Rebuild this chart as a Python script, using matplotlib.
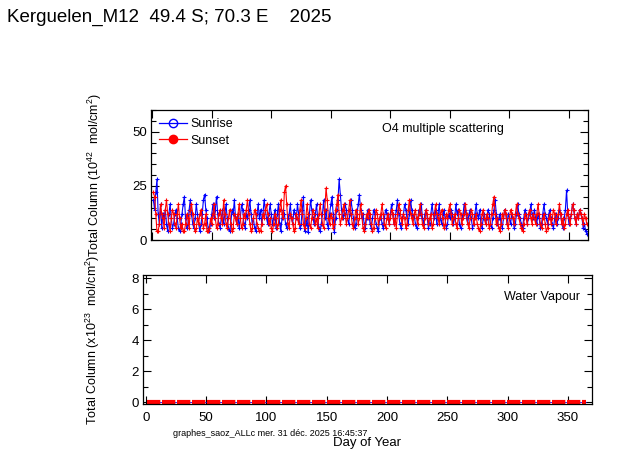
import numpy as np
import matplotlib
matplotlib.use("Agg")
import matplotlib.pyplot as plt
from matplotlib.lines import Line2D
from matplotlib.ticker import MultipleLocator

plt.rcParams['font.family'] = ['Liberation Sans', 'DejaVu Sans']
plt.rcParams['mathtext.fontset'] = 'custom'
plt.rcParams['mathtext.rm'] = 'Liberation Sans'
plt.rcParams['mathtext.it'] = 'Liberation Sans'

title = "Kerguelen_M12  49.4 S; 70.3 E    2025"
footer = "graphes_saoz_ALLc mer. 31 déc. 2025 16:45:37"
series_names = ["Sunrise", "Sunset"]

days = np.arange(1, 366)

o4_sunrise = [
    18.5, 14, 22, 28, 12, 7.5, 16.5, 5.5, 12, 10, 14, 7.5, 4, 12, 16.5, 10, 5.5, 7.5, 12, 14,
    10, 5.5, 4, 7.5, 12, 16.5, 20, 10, 5.5, 7.5, 14, 18.5, 12, 7.5, 5.5, 10, 16.5, 12, 7.5, 4,
    7.5, 12, 18.5, 21, 14, 10, 5.5, 4, 7.5, 12, 16.5, 10, 14, 20, 12, 7.5, 5.5, 10, 14, 7.5,
    12, 16.5, 10, 5.5, 4, 7.5, 14, 12, 18.5, 10, 7.5, 12, 5.5, 10, 16.5, 14, 7.5, 5.5, 12, 10,
    14, 18.5, 12, 7.5, 10, 5.5, 4, 12, 16.5, 10, 14, 7.5, 12, 18.5, 14, 10, 7.5, 12, 16.5, 12,
    7.5, 10, 14, 5.5, 12, 16.5, 7.5, 4, 10, 14, 12, 7.5, 5.5, 10, 12, 16.5, 10, 7.5, 14, 12,
    10, 16.5, 12, 5.5, 7.5, 14, 20, 4, 7.5, 10, 3.5, 12, 18.5, 14, 10, 7.5, 12, 16.5, 10, 5.5,
    4, 7.5, 12, 18.5, 10, 14, 7.5, 5.5, 12, 16.5, 20, 12, 3.5, 10, 14, 18.5, 28, 21, 14, 10,
    12, 16.5, 14, 10, 7.5, 12, 18.5, 14, 10, 5.5, 7.5, 12, 16.5, 21, 14, 10, 12, 7.5, 5.5, 10,
    14, 12, 7.5, 5.5, 10, 14, 12, 7.5, 5.5, 4, 10, 12, 7.5, 5.5, 10, 14, 12, 10, 7.5, 12,
    16.5, 12, 7.5, 10, 14, 18.5, 12, 7.5, 5.5, 10, 12, 16.5, 14, 10, 7.5, 12, 18.5, 14, 10, 12,
    7.5, 5.5, 10, 14, 12, 16.5, 10, 7.5, 12, 14, 10, 5.5, 7.5, 12, 16.5, 12, 10, 14, 7.5, 12,
    16.5, 10, 7.5, 12, 14, 10, 5.5, 7.5, 12, 10, 14, 12, 7.5, 10, 16.5, 12, 14, 7.5, 5.5, 10,
    12, 16.5, 14, 10, 7.5, 12, 14, 10, 5.5, 7.5, 12, 16.5, 12, 10, 14, 7.5, 5.5, 10, 12, 7.5,
    10, 14, 12, 7.5, 5.5, 10, 14, 18.5, 12, 7.5, 10, 12, 7.5, 5.5, 10, 14, 12, 7.5, 12, 10,
    7.5, 12, 10, 5.5, 7.5, 12, 16.5, 12, 10, 7.5, 5.5, 10, 14, 12, 7.5, 10, 12, 16.5, 12, 10,
    14, 10, 7.5, 12, 10, 5.5, 7.5, 12, 16.5, 12, 10, 7.5, 12, 14, 10, 7.5, 5.5, 10, 12, 7.5,
    10, 14, 12, 7.5, 5.5, 10, 14, 23, 12, 7.5, 10, 12, 16.5, 14, 10, 7.5, 12, 10, 14, 12,
    10, 5.5, 7.5, 4, 3,
]
o4_sunset = [
    22, 20, 12, 4, 4, 7.5, 16.5, 12, 10, 5.5, 14, 18.5, 12, 7.5, 4, 10, 14, 12, 7.5, 5.5,
    12, 16.5, 10, 5.5, 7.5, 4, 4, 7.5, 12, 10, 5.5, 14, 16.5, 12, 7.5, 4, 5.5, 10, 7.5, 12,
    14, 10, 5.5, 7.5, 12, 4, 4, 5.5, 10, 7.5, 12, 16.5, 10, 5.5, 7.5, 12, 14, 10, 7.5, 18.5,
    12, 7.5, 5.5, 10, 14, 7.5, 4, 5.5, 12, 10, 7.5, 12, 16.5, 10, 5.5, 7.5, 12, 10, 14, 18.5,
    12, 7.5, 4, 5.5, 10, 14, 12, 7.5, 5.5, 4, 4, 7.5, 12, 10, 14, 16.5, 12, 7.5, 10, 5.5,
    4, 7.5, 12, 10, 5.5, 7.5, 14, 18.5, 12, 10, 22, 25, 16.5, 7.5, 5.5, 12, 10, 7.5, 4, 5.5,
    12, 10, 7.5, 14, 18.5, 12, 7.5, 5.5, 10, 16.5, 12, 7.5, 5.5, 10, 14, 12, 7.5, 10, 5.5, 12,
    16.5, 12, 7.5, 5.5, 14, 24, 18.5, 10, 7.5, 12, 10, 5.5, 7.5, 14, 16.5, 21, 12, 7.5, 10, 14,
    16.5, 12, 7.5, 10, 14, 18.5, 12, 7.5, 5.5, 10, 14, 12, 7.5, 10, 16.5, 12, 5.5, 4, 7.5, 12,
    10, 14, 12, 7.5, 4, 5.5, 10, 14, 12, 7.5, 10, 12, 16.5, 12, 7.5, 5.5, 10, 12, 7.5, 10,
    14, 12, 7.5, 10, 5.5, 12, 16.5, 14, 10, 7.5, 12, 10, 5.5, 7.5, 14, 18.5, 12, 10, 7.5, 12,
    14, 10, 7.5, 12, 16.5, 12, 7.5, 5.5, 10, 14, 12, 7.5, 10, 12, 5.5, 7.5, 12, 16.5, 12, 10,
    7.5, 12, 14, 10, 5.5, 7.5, 12, 10, 14, 16.5, 12, 7.5, 10, 12, 7.5, 5.5, 10, 14, 12, 7.5,
    10, 12, 16.5, 12, 7.5, 5.5, 10, 14, 12, 7.5, 10, 12, 7.5, 5.5, 4, 7.5, 12, 14, 10, 7.5,
    12, 10, 5.5, 7.5, 12, 16.5, 20, 12, 7.5, 10, 5.5, 4, 7.5, 12, 10, 14, 12, 7.5, 5.5, 10,
    14, 12, 10, 7.5, 12, 16.5, 12, 10, 7.5, 5.5, 4, 7.5, 12, 10, 7.5, 12, 14, 10, 7.5, 12,
    10, 7.5, 12, 16.5, 12, 7.5, 5.5, 10, 12, 7.5, 4, 5.5, 10, 12, 7.5, 10, 14, 12, 7.5, 10,
    12, 16.5, 12, 7.5, 10, 5.5, 7.5, 12, 14, 10, 7.5, 12, 16.5, 14, 10, 7.5, 12, 10, 14, 12,
    10, 7.5, 12, 10, 7.5,
]

wv_sunrise = [
    0,0,0,0,0,0,0,0,0,0,0,0,0,0,0,0,0,0,0,0,0,0,0,0,0,0,0,0,0,0,0,0,0,0,0,0,0,0,0,0,0,0,0,0,0,0,0,0,0,0,0,0,0,0,0,0,0,0,0,0,0,0,0,0,0,0,0,0,0,0,0,0,0,
    0,0,0,0,0,0,0,0,0,0,0,0,0,0,0,0,0,0,0,0,0,0,0,0,0,0,0,0,0,0,0,0,0,0,0,0,0,0,0,0,0,0,0,0,0,0,0,0,0,0,0,0,0,0,0,0,0,0,0,0,0,0,0,0,0,0,0,0,0,0,0,0,0,
    0,0,0,0,0,0,0,0,0,0,0,0,0,0,0,0,0,0,0,0,0,0,0,0,0,0,0,0,0,0,0,0,0,0,0,0,0,0,0,0,0,0,0,0,0,0,0,0,0,0,0,0,0,0,0,0,0,0,0,0,0,0,0,0,0,0,0,0,0,0,0,0,0,
    0,0,0,0,0,0,0,0,0,0,0,0,0,0,0,0,0,0,0,0,0,0,0,0,0,0,0,0,0,0,0,0,0,0,0,0,0,0,0,0,0,0,0,0,0,0,0,0,0,0,0,0,0,0,0,0,0,0,0,0,0,0,0,0,0,0,0,0,0,0,0,0,0,
    0,0,0,0,0,0,0,0,0,0,0,0,0,0,0,0,0,0,0,0,0,0,0,0,0,0,0,0,0,0,0,0,0,0,0,0,0,0,0,0,0,0,0,0,0,0,0,0,0,0,0,0,0,0,0,0,0,0,0,0,0,0,0,0,0,0,0,0,0,0,0,0,0,
]
wv_sunset = [
    0,0,0,0,0,0,0,0,0,0,0,0,0,0,0,0,0,0,0,0,0,0,0,0,0,0,0,0,0,0,0,0,0,0,0,0,0,0,0,0,0,0,0,0,0,0,0,0,0,0,0,0,0,0,0,0,0,0,0,0,0,0,0,0,0,0,0,0,0,0,0,0,0,
    0,0,0,0,0,0,0,0,0,0,0,0,0,0,0,0,0,0,0,0,0,0,0,0,0,0,0,0,0,0,0,0,0,0,0,0,0,0,0,0,0,0,0,0,0,0,0,0,0,0,0,0,0,0,0,0,0,0,0,0,0,0,0,0,0,0,0,0,0,0,0,0,0,
    0,0,0,0,0,0,0,0,0,0,0,0,0,0,0,0,0,0,0,0,0,0,0,0,0,0,0,0,0,0,0,0,0,0,0,0,0,0,0,0,0,0,0,0,0,0,0,0,0,0,0,0,0,0,0,0,0,0,0,0,0,0,0,0,0,0,0,0,0,0,0,0,0,
    0,0,0,0,0,0,0,0,0,0,0,0,0,0,0,0,0,0,0,0,0,0,0,0,0,0,0,0,0,0,0,0,0,0,0,0,0,0,0,0,0,0,0,0,0,0,0,0,0,0,0,0,0,0,0,0,0,0,0,0,0,0,0,0,0,0,0,0,0,0,0,0,0,
    0,0,0,0,0,0,0,0,0,0,0,0,0,0,0,0,0,0,0,0,0,0,0,0,0,0,0,0,0,0,0,0,0,0,0,0,0,0,0,0,0,0,0,0,0,0,0,0,0,0,0,0,0,0,0,0,0,0,0,0,0,0,0,0,0,0,0,0,0,0,0,0,0,
]

BLUE = "#0000ff"
RED = "#ff0000"

fig = plt.figure(figsize=(6.23, 4.55), dpi=100)
ax1 = fig.add_axes([0.2424, 0.4725, 0.7014, 0.2855])
ax2 = fig.add_axes([0.2300, 0.1121, 0.7202, 0.2835])

line_kw = dict(lw=0.8, marker='+', markersize=3.2, mew=0.8)
ax1.plot(days, o4_sunrise, color=BLUE, **line_kw)
ax1.plot(days, o4_sunset, color=RED, **line_kw)

ax2.plot(days, wv_sunrise, color=BLUE, lw=0.6)
ax2.plot(days, wv_sunset, color=RED, lw=3, dashes=(3.2, 0.4))

ax1.set_xlim(-1, 366)
ax1.set_ylim(0, 60)
ax2.set_xlim(-2, 370)
ax2.set_ylim(-0.1, 8.2)

for ax in (ax1, ax2):
    ax.xaxis.set_major_locator(MultipleLocator(50))
    ax.tick_params(which='both', direction='in', top=True, right=True,
                   labelsize=9.5, width=0.8, colors='black')
    ax.tick_params(which='major', length=6)
    ax.tick_params(which='minor', length=3.5)
    ax.tick_params(axis='x', which='minor', length=0)
    for s in ax.spines.values():
        s.set_linewidth(0.9)

ax1.yaxis.set_major_locator(MultipleLocator(25))
ax1.yaxis.set_minor_locator(MultipleLocator(5))
ax1.tick_params(axis='x', labelbottom=False)
ax1.tick_params(axis='y', pad=3)

ax2.yaxis.set_major_locator(MultipleLocator(2))
ax2.yaxis.set_minor_locator(MultipleLocator(1))
ax2.tick_params(axis='x', pad=6)
ax2.tick_params(axis='y', pad=3)

ax1.set_ylabel(r"Total Column (10$^{42}$  mol/cm$^{2}$)", fontsize=9)
ax1.yaxis.set_label_coords(-0.107, 0.5)
ax2.set_ylabel(r"Total Column (x10$^{23}$  mol/cm$^{2}$)", fontsize=9)
ax2.yaxis.set_label_coords(-0.091, 0.5)

ax1.text(0.528, 0.858, "O4 multiple scattering", transform=ax1.transAxes,
         fontsize=9, va='center', ha='left')
ax2.text(0.974, 0.832, "Water Vapour", transform=ax2.transAxes,
         fontsize=9, va='center', ha='right')

handles = [
    Line2D([], [], color=BLUE, lw=0.9, marker='o', mfc='none', markersize=6),
    Line2D([], [], color=RED, lw=0.9, marker='o', mfc=RED, markersize=6),
]
ax1.legend(handles, series_names, loc='upper left', bbox_to_anchor=(0.0, 1.0),
           frameon=False, fontsize=9, handlelength=2.2, handletextpad=0.3,
           labelspacing=0.35, borderaxespad=0.35, borderpad=0.3)

fig.text(7 / 623, 1 - 17 / 455, title, fontsize=13.5, ha='left', va='center')
fig.text(173 / 623, 1 - 434 / 455, footer, fontsize=6.5, ha='left', va='center')
fig.text(366.7 / 623, 1 - 442.7 / 455, "Day of Year", fontsize=9.5,
         ha='center', va='center')

fig.savefig("out.png", dpi=100)
